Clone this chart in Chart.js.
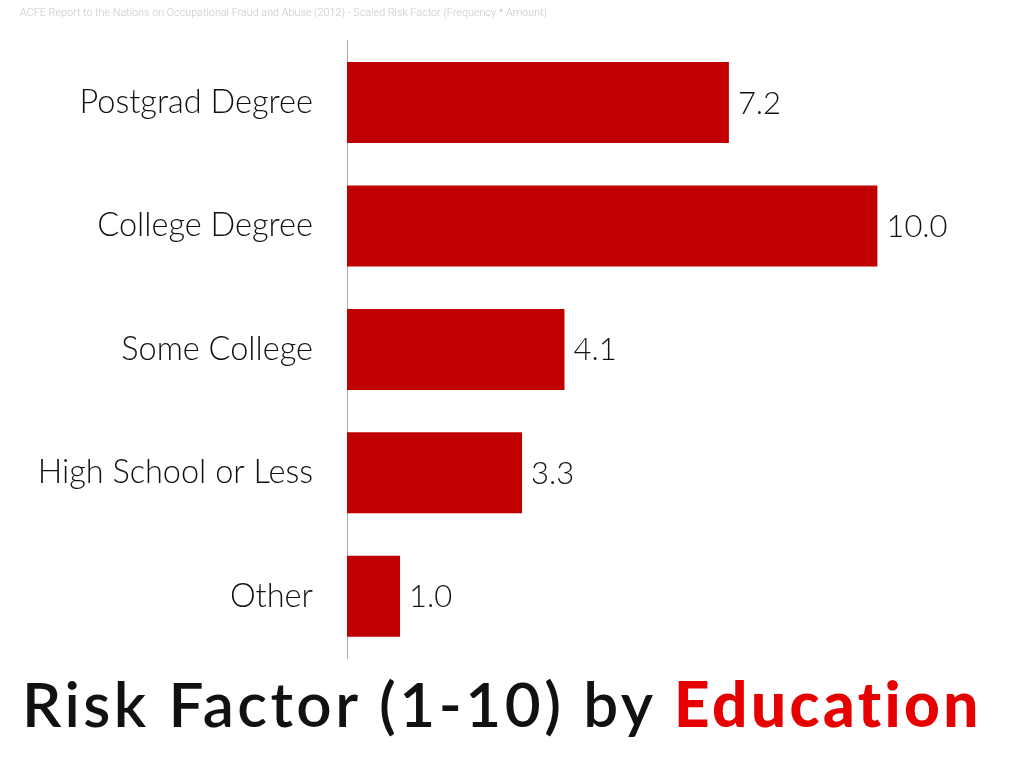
<!DOCTYPE html>
<html>
<head>
<meta charset="utf-8">
<script src="https://cdn.jsdelivr.net/npm/chart.js@4.4.1/dist/chart.umd.min.js"></script>
<style>
  html, body { margin: 0; padding: 0; background: #fff; }
  #wrap { position: relative; width: 1024px; height: 768px; overflow: hidden; }
  #box { position: absolute; left: 0; top: 0; width: 1024px; height: 660px; }
  #heading {
    position: absolute; left: 22px; top: 663px; margin: 0;
    font-family: Lato, sans-serif; font-weight: 600; font-size: 62px;
    line-height: 80px; color: #111; white-space: nowrap;
  }
  #heading span { color: #e60000; font-weight: 900; }
</style>
</head>
<body>
<div id="wrap">
  <div id="box"><canvas id="myChart" width="1024" height="660"></canvas></div>
  <h1 id="heading">Risk Factor (1-10) by <span>Education</span></h1>
</div>
<script>
const categories = ['Postgrad Degree', 'College Degree', 'Some College', 'High School or Less', 'Other'];
const riskFactor = [7.2, 10.0, 4.1, 3.3, 1.0];
const note = 'ACFE Report to the Nations on Occupational Fraud and Abuse (2012) - Scaled Risk Factor (Frequency * Amount)';

// value printed at the end of each bar
const barValues = {
  id: 'barValues',
  afterDatasetsDraw(chart) {
    const c = chart.ctx;
    c.save();
    c.font = '300 31px Lato';
    c.fillStyle = '#111';
    c.textBaseline = 'middle';
    chart.getDatasetMeta(0).data.forEach((bar, i) => {
      c.fillText(riskFactor[i].toFixed(1), bar.x + 9, bar.y + 1);
    });
    c.restore();
  }
};

const ctx = document.getElementById('myChart').getContext('2d');

const myChart = new Chart(ctx, {
  type: 'bar',
  data: {
    labels: categories,
    datasets: [{
      data: riskFactor,
      backgroundColor: '#c00000',
      borderWidth: 0,
      barPercentage: 0.82,
      categoryPercentage: 0.8
    }]
  },
  options: {
    indexAxis: 'y',
    responsive: false,
    animation: false,
    layout: {
      padding: { left: 20, right: 14, top: 0, bottom: 2 }
    },
    scales: {
      x: {
        display: false,
        min: 0,
        max: 12.5
      },
      y: {
        afterFit: (scale) => {
          scale.width = 327;
          scale.paddingTop = 0;
          scale.paddingBottom = 0;
        },
        grid: { display: false, drawTicks: false },
        border: { display: true, color: '#aaa', width: 1 },
        ticks: {
          padding: 34,
          color: '#111',
          font: { family: 'Lato', size: 32.5, weight: 300 }
        }
      }
    },
    plugins: {
      legend: { display: false },
      tooltip: { enabled: false },
      title: {
        display: true,
        text: note,
        align: 'start',
        color: '#c8c8c8',
        font: { family: 'Roboto', size: 10.8, weight: 300, lineHeight: 1 },
        padding: { top: 8, bottom: 22 }
      }
    }
  },
  plugins: [barValues]
});

// stretch the heading to the width it has in the original slide
const heading = document.getElementById('heading');
const gap = (961 - heading.getBoundingClientRect().width) / heading.textContent.length;
heading.style.letterSpacing = gap.toFixed(2) + 'px';
</script>
</body>
</html>
